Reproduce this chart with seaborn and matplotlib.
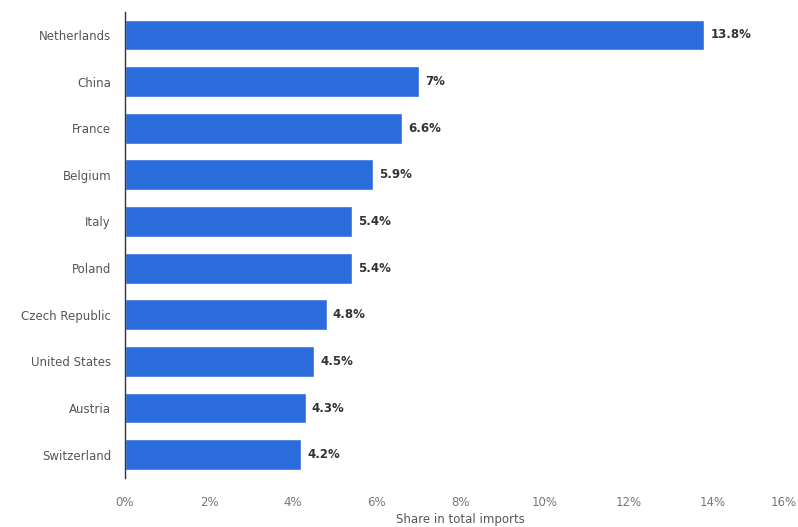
import matplotlib
matplotlib.use("Agg")
import matplotlib.pyplot as plt
import seaborn as sns
import pandas as pd

countries = ["Netherlands", "China", "France", "Belgium", "Italy", "Poland",
             "Czech Republic", "United States", "Austria", "Switzerland"]
shares = [13.8, 7.0, 6.6, 5.9, 5.4, 5.4, 4.8, 4.5, 4.3, 4.2]
value_labels = ["13.8%", "7%", "6.6%", "5.9%", "5.4%", "5.4%", "4.8%", "4.5%", "4.3%", "4.2%"]
x_ticks = [0, 2, 4, 6, 8, 10, 12, 14, 16]
x_ticklabels = ["0%", "2%", "4%", "6%", "8%", "10%", "12%", "14%", "16%"]

sns.set_theme(style="white")
plt.rcParams["font.family"] = ["DejaVu Sans"]

df = pd.DataFrame({"country": countries, "share": shares})

fig = plt.figure(figsize=(7.98, 5.27), dpi=100)
ax = fig.add_axes([0.1566, 0.093, 0.842, 0.885])

sns.barplot(data=df, x="share", y="country", color="#2b6cdd", saturation=1,
            width=0.66, ax=ax, orient="h")

for i, (v, lab) in enumerate(zip(shares, value_labels)):
    ax.text(v + 0.15, i, lab, va="center", ha="left", fontsize=8.5,
            fontweight="bold", color="#333333")

ax.set_xlim(0, 16)
ax.set_ylim(9.5, -0.5)
ax.set_xticks(x_ticks)
ax.set_xticklabels(x_ticklabels)
tl = ax.get_xticklabels()
tl[-1].set_ha("right")
ax.tick_params(axis="x", colors="#777777", labelsize=8.5, length=0, pad=13)
ax.tick_params(axis="y", colors="#555555", labelsize=8.5, length=0, pad=10)
ax.set_xlabel("Share in total imports", color="#555555", fontsize=8.5, labelpad=3)
ax.set_ylabel("")
for s in ["top", "right", "bottom"]:
    ax.spines[s].set_visible(False)
ax.spines["left"].set_color("#333333")
ax.spines["left"].set_linewidth(1.0)
ax.grid(False)

fig.savefig("out.png", dpi=100)
